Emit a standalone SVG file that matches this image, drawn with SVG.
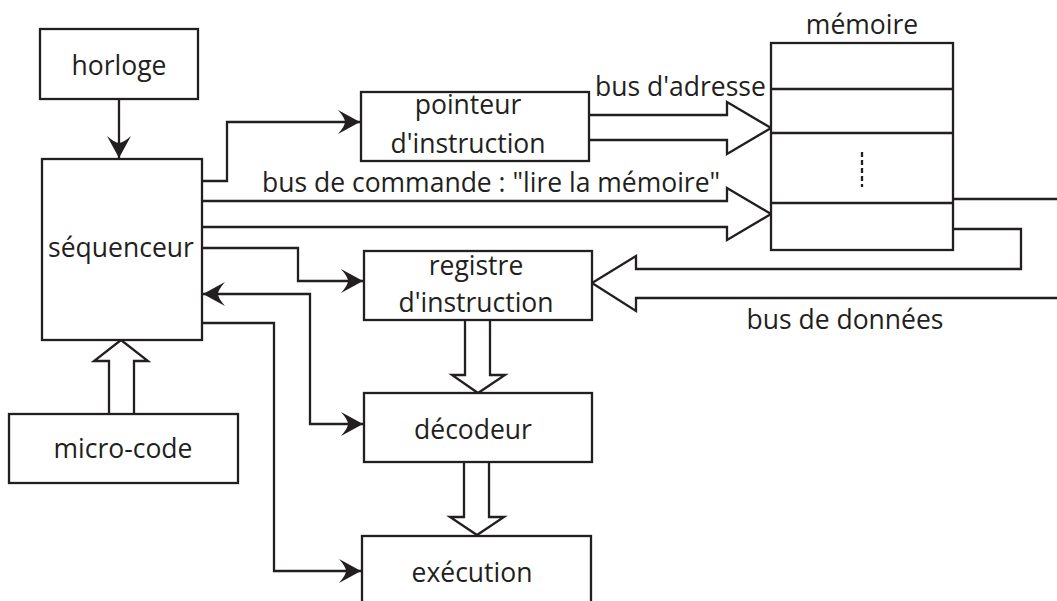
<svg xmlns="http://www.w3.org/2000/svg" width="1057" height="601" viewBox="0 0 1057 601">
  <style>
    .box { fill: #ffffff; stroke: #231f20; stroke-width: 2.3; }
    .wire { fill: none; stroke: #231f20; stroke-width: 2.3; }
    .bus { fill: #ffffff; stroke: #231f20; stroke-width: 2.3; stroke-linejoin: miter; }
    .bus-open { fill: none; stroke: #231f20; stroke-width: 2.3; stroke-linejoin: miter; }
    .lbl { font-family: "Open Sans", "Noto Sans", "Liberation Sans", sans-serif; font-size: 26.5px; fill: #231f20; }
    .c { text-anchor: middle; }
  </style>
  <defs>
    <marker id="head" viewBox="-23 -13 25 26" refX="0" refY="0" markerWidth="25" markerHeight="26" markerUnits="userSpaceOnUse" orient="auto-start-reverse">
      <path d="M0,0 L-22,-12 Q-15,-4 -15,0 Q-15,4 -22,12 Z" fill="#231f20"/>
    </marker>
  </defs>
  <rect width="1057" height="601" fill="#ffffff"/>

  <!-- control and bus connectors -->
  <g id="connectors">
    <!-- clock to sequencer -->
    <path class="wire" d="M119,99 V158" marker-end="url(#head)"/>
    <!-- sequencer to instruction pointer -->
    <path class="wire" d="M202,181 H227 V122 H360" marker-end="url(#head)"/>
    <!-- sequencer to instruction register -->
    <path class="wire" d="M202,248 H298 V281 H363" marker-end="url(#head)"/>
    <!-- decoder <-> sequencer -->
    <path class="wire" d="M203,294 H310 V424 H363" marker-start="url(#head)" marker-end="url(#head)"/>
    <!-- sequencer to execution -->
    <path class="wire" d="M202,323 H274 V571 H361" marker-end="url(#head)"/>

    <!-- address bus -->
    <path class="bus" d="M589,115 H727 V102 L771,128 L727,154 V140 H589"/>
    <!-- command bus -->
    <path class="bus" d="M202,201 H727 V188 L771,214 L727,240 V227 H202"/>
    <!-- data bus into the instruction register -->
    <path class="bus-open" d="M953,229 H1021 V269 H636 V256 L592,283 L636,311 V298 H1057"/>
    <!-- memory output line -->
    <path class="wire" d="M953,199 H1057"/>

    <!-- instruction register to decoder -->
    <path class="bus" d="M465,320 V375 H452 L478,393 L505,375 H490 V320"/>
    <!-- decoder to execution -->
    <path class="bus" d="M464,462 V517 H450 L477,535 L504,517 H489 V462"/>
    <!-- micro-code to sequencer -->
    <path class="bus" d="M109,414 V361 H94 L121,340 L148,361 H134 V414"/>
  </g>

  <g id="horloge">
    <rect class="box" x="40" y="29" width="158" height="70"/>
    <text class="lbl c" x="119" y="75">horloge</text>
  </g>

  <g id="sequenceur">
    <rect class="box" x="42" y="159" width="160" height="181"/>
    <text class="lbl c" x="121" y="257">séquenceur</text>
  </g>

  <g id="micro-code">
    <rect class="box" x="9" y="414" width="229" height="69"/>
    <text class="lbl c" x="123" y="458">micro-code</text>
  </g>

  <g id="pointeur">
    <rect class="box" x="361" y="92" width="228" height="69"/>
    <text class="lbl c" x="468" y="114">pointeur</text>
    <text class="lbl c" x="468" y="153">d'instruction</text>
  </g>

  <g id="registre">
    <rect class="box" x="364" y="251" width="228" height="69"/>
    <text class="lbl c" x="476" y="275">registre</text>
    <text class="lbl c" x="476" y="312">d'instruction</text>
  </g>

  <g id="decodeur">
    <rect class="box" x="364" y="393" width="228" height="69"/>
    <text class="lbl c" x="473" y="439">décodeur</text>
  </g>

  <g id="execution">
    <rect class="box" x="362" y="536" width="229" height="90"/>
    <text class="lbl c" x="472" y="582">exécution</text>
  </g>

  <g id="memoire">
    <rect class="box" x="771" y="43" width="182" height="207"/>
    <path class="wire" d="M771,89 H953 M771,133 H953 M771,203 H953"/>
    <path class="wire" d="M862,152 V187" stroke-width="2.6" stroke-dasharray="5,3"/>
    <text class="lbl c" x="862" y="34">mémoire</text>
  </g>

  <g id="labels">
    <text class="lbl" x="595" y="96">bus d'adresse</text>
    <text class="lbl" x="262" y="192">bus de commande : "lire la mémoire"</text>
    <text class="lbl c" x="845" y="329">bus de données</text>
  </g>
</svg>
